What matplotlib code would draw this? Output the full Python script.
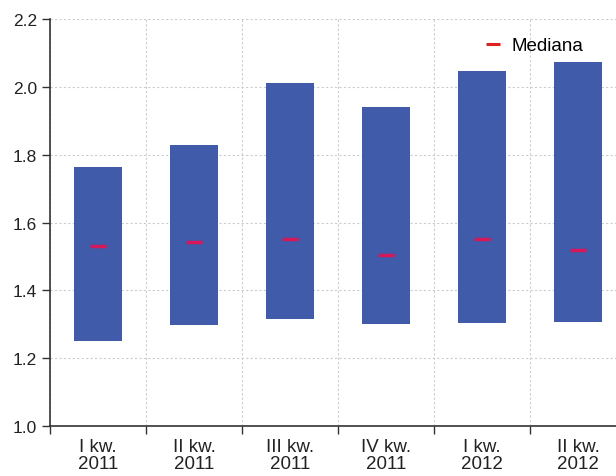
import numpy as np
import matplotlib.pyplot as plt
from matplotlib.lines import Line2D

plt.rcParams['font.family'] = ['Liberation Sans', 'DejaVu Sans']

labels = ['I kw.\n2011', 'II kw.\n2011', 'III kw.\n2011', 'IV kw.\n2011', 'I kw.\n2012', 'II kw.\n2012']
low = [1.252, 1.298, 1.316, 1.302, 1.304, 1.307]
high = [1.763, 1.828, 2.010, 1.942, 2.046, 2.072]
median = [1.532, 1.542, 1.550, 1.503, 1.550, 1.518]

x = np.arange(len(labels))
bar_color = '#3f5ba9'
med_color = '#d6185a'

fig = plt.figure(figsize=(6.16, 4.77), dpi=100)
# axes extends a little past the right edge, as in the original
ax = fig.add_axes([50 / 616, 50 / 477, 576 / 616, 407 / 477])

heights = np.array(high) - np.array(low)
ax.bar(x, heights, bottom=low, width=0.5, color=bar_color, zorder=2)
ax.plot(x, median, linestyle='none', marker='_', markersize=12, markeredgewidth=2.5,
        color=med_color, zorder=3)

ax.set_xlim(-0.5, 5.5)
ax.set_ylim(1.0, 2.2)
ax.set_yticks(np.arange(1.0, 2.21, 0.2))
ax.set_yticklabels([f'{v:.1f}' for v in np.arange(1.0, 2.21, 0.2)])
ax.set_xticks(x)
ax.set_xticklabels(labels, linespacing=0.98)
ax.set_xticks(np.arange(-0.5, 6, 1.0), minor=True)
ax.tick_params(axis='x', which='major', length=0, pad=9, labelsize=13.5, colors='#222222')
ax.tick_params(axis='x', which='minor', length=6, width=1, color='#333333')
ax.tick_params(axis='y', length=6, width=1, color='#333333', labelsize=12.5, labelcolor='#222222')

ax.grid(axis='y', which='major', linestyle=(0, (2, 2)), color='#cccccc', linewidth=0.8, zorder=0)
ax.grid(axis='x', which='minor', linestyle=(0, (2, 2)), color='#cccccc', linewidth=0.8, zorder=0)

for s in ['top', 'right']:
    ax.spines[s].set_visible(False)
for s in ['left', 'bottom']:
    ax.spines[s].set_color('#333333')
    ax.spines[s].set_linewidth(1.2)

handle = Line2D([], [], linestyle='none', marker='_', markersize=10, markeredgewidth=2.2, color='#e02020')
fig.legend([handle], ['Mediana'], loc='upper right', bbox_to_anchor=(0.975, 0.955),
           frameon=False, fontsize=13.5, handlelength=0.8, handletextpad=0.6)

fig.savefig('out.png', dpi=100)
